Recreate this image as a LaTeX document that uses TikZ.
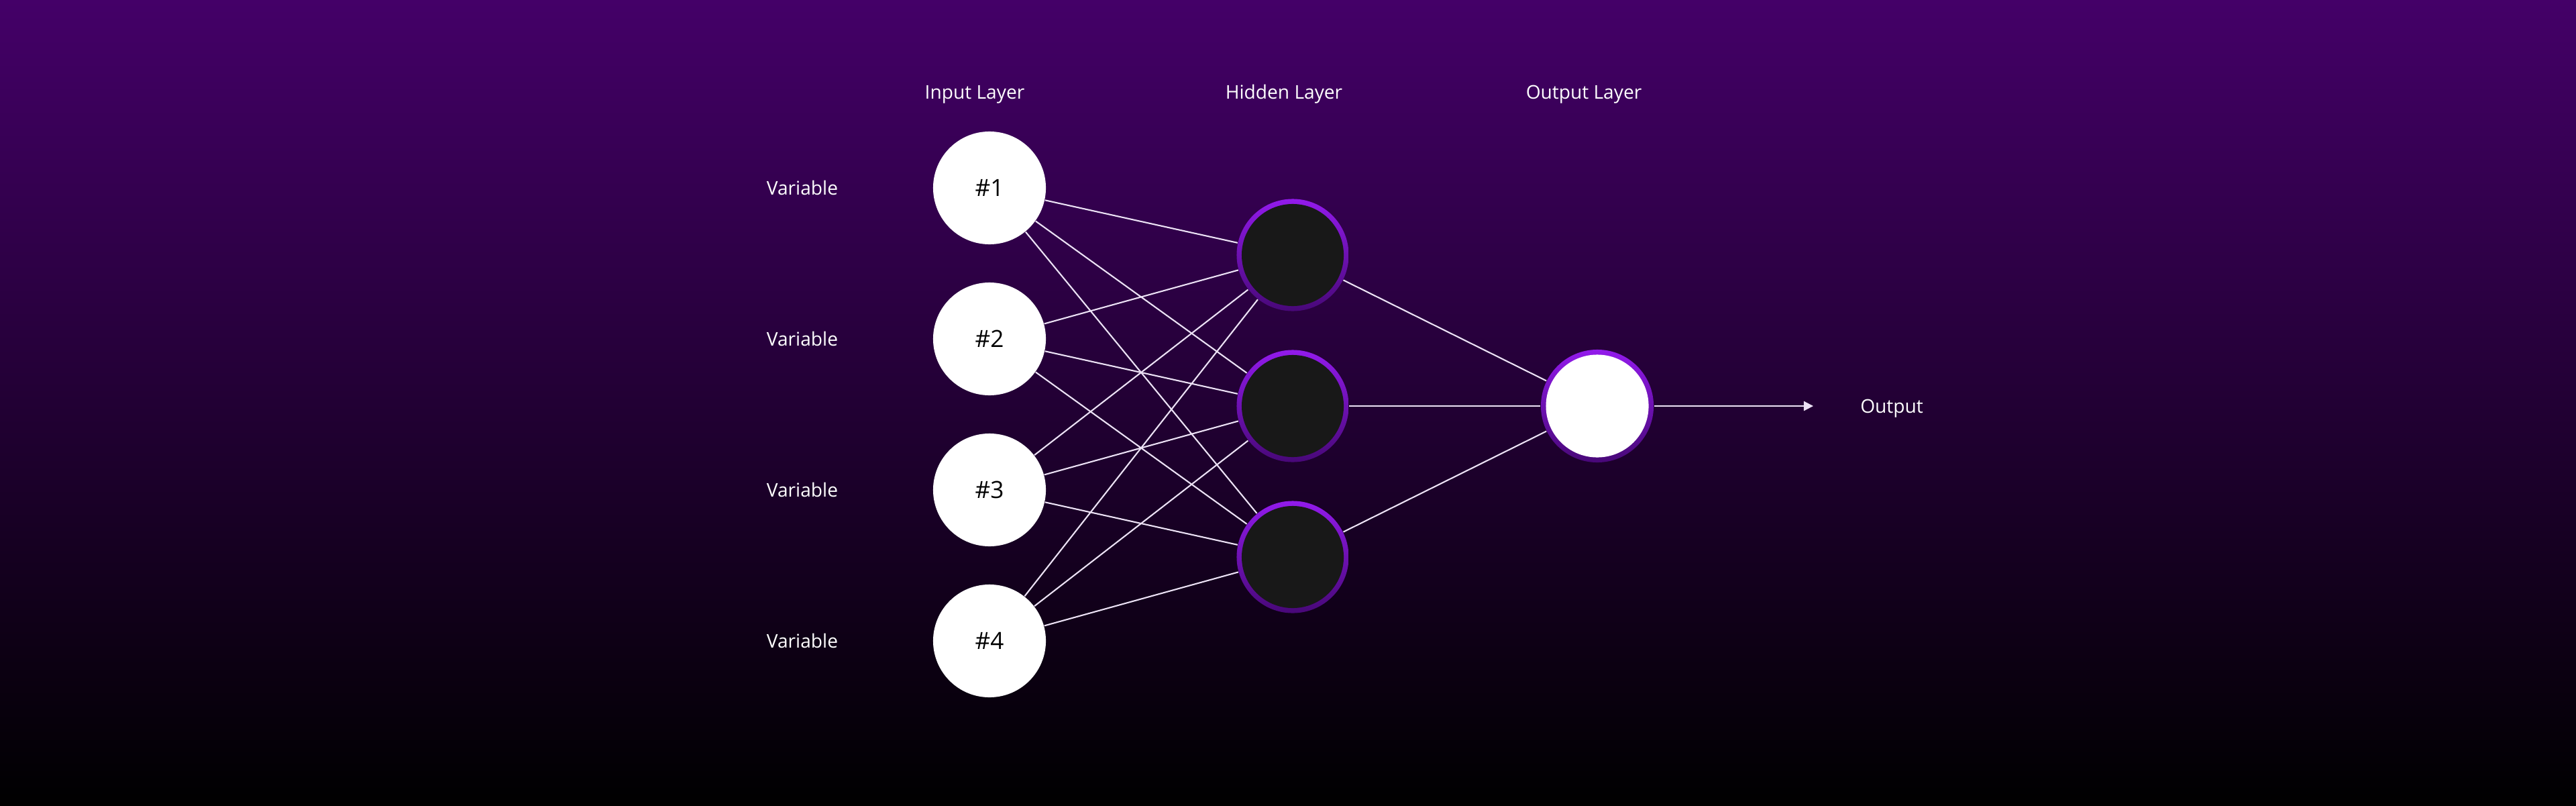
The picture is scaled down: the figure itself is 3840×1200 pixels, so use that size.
\documentclass[tikz,border=0pt]{standalone}
\usepackage{fontspec}
\setmainfont{Open Sans}
\usetikzlibrary{arrows.meta}
\definecolor{bgtop}{RGB}{68,0,104}
\definecolor{bgmid}{RGB}{40,0,66}
\definecolor{ringtop}{RGB}{146,26,235}
\definecolor{ringbot}{RGB}{72,8,120}
\definecolor{corecol}{RGB}{24,24,24}
\definecolor{wirecol}{RGB}{236,226,245}
\begin{document}
\begin{tikzpicture}[x=0.01cm,y=-0.01cm,
  inputnode/.style={circle,fill=white,minimum size=1.68cm,inner sep=0pt,font=\fontsize{10}{12}\selectfont,text=black},
  ringnode/.style={circle,top color=ringtop,bottom color=ringbot,draw=none,minimum size=1.67cm,inner sep=0pt},
  hidcore/.style={circle,fill=corecol,minimum size=1.52cm,inner sep=0pt},
  outcore/.style={circle,fill=white,minimum size=1.53cm,inner sep=0pt},
  lbl/.style={text=white,font=\fontsize{8}{10}\selectfont,inner sep=0pt},
  wireline/.style={draw=wirecol,line width=0.6pt}
]
\useasboundingbox (0,0) rectangle (3840,1200);
\shade[top color=bgtop,middle color=bgmid,bottom color=black] (0,0) rectangle (3840,1200);

% layer titles
\node[lbl,anchor=base] (tin) at (1453,147) {Input Layer};
\node[lbl,anchor=base] (thid) at (1914,147) {Hidden Layer};
\node[lbl,anchor=base] (tout) at (2361,147) {Output Layer};

% input nodes
\node[inputnode] (i1) at (1475,280) {\#1};
\node[inputnode] (i2) at (1475,505) {\#2};
\node[inputnode] (i3) at (1475,730) {\#3};
\node[inputnode] (i4) at (1475,955) {\#4};

% variable labels
\node[lbl] (v1) at (1196,280) {Variable};
\node[lbl] (v2) at (1196,505) {Variable};
\node[lbl] (v3) at (1196,730) {Variable};
\node[lbl] (v4) at (1196,955) {Variable};

% hidden nodes
\node[ringnode] (h1) at (1927,380) {};
\node[hidcore] (hc1) at (1927,380) {};
\node[ringnode] (h2) at (1927,605) {};
\node[hidcore] (hc2) at (1927,605) {};
\node[ringnode] (h3) at (1927,830) {};
\node[hidcore] (hc3) at (1927,830) {};

% output node
\node[ringnode,minimum size=1.68cm] (o) at (2381,605) {};
\node[outcore] (oc) at (2381,605) {};

% connections
\foreach \i in {1,2,3,4}{
  \foreach \h in {1,2,3}{
    \draw[wireline] (i\i) -- (h\h);
  }
}
\foreach \h in {1,2,3}{
  \draw[wireline] (h\h) -- (o);
}
\coordinate (oend) at (2703,605);
\draw[wireline,-{Triangle[length=4pt,width=4pt]}] (o) -- (oend);
\node[lbl,anchor=base] (outlbl) at (2820,615) {Output};
\end{tikzpicture}
\end{document}
